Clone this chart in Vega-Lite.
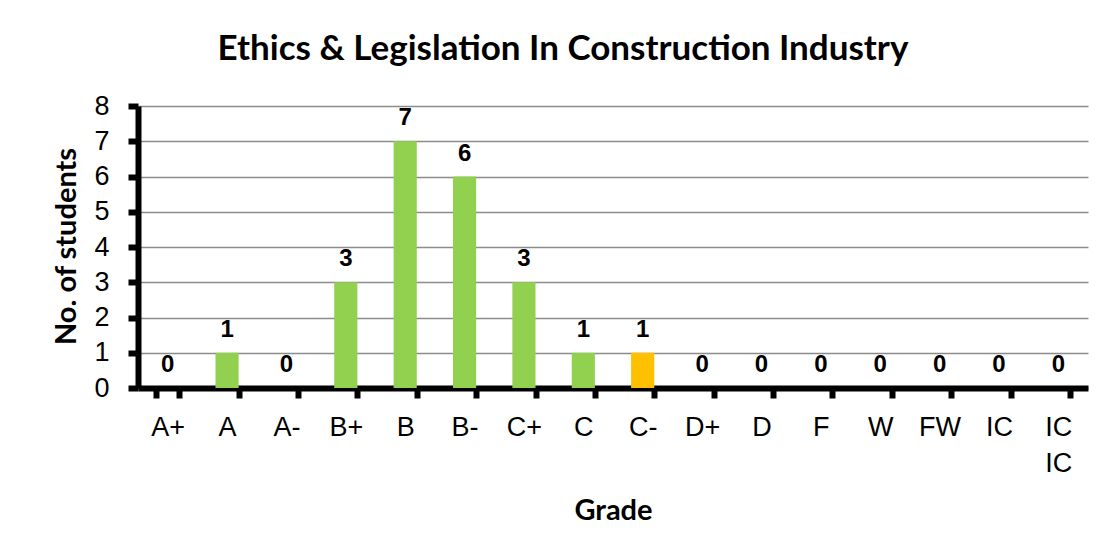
{
  "$schema": "https://vega.github.io/schema/vega-lite/v6.json",
  "autosize": "none",
  "width": 950,
  "height": 282,
  "padding": {"left": 138, "top": 106, "right": 18, "bottom": 172},
  "background": "white",
  "title": {
    "text": "Ethics & Legislation In Construction Industry",
    "font": "Lato",
    "fontSize": 35,
    "fontWeight": "bold",
    "color": "black",
    "anchor": "middle",
    "frame": "group",
    "baseline": "alphabetic",
    "offset": -3,
    "dx": -50
  },
  "data": {
    "values": [
      {"grade": "A+", "students": 0},
      {"grade": "A", "students": 1},
      {"grade": "A-", "students": 0},
      {"grade": "B+", "students": 3},
      {"grade": "B", "students": 7},
      {"grade": "B-", "students": 6},
      {"grade": "C+", "students": 3},
      {"grade": "C", "students": 1},
      {"grade": "C-", "students": 1},
      {"grade": "D+", "students": 0},
      {"grade": "D", "students": 0},
      {"grade": "F", "students": 0},
      {"grade": "W", "students": 0},
      {"grade": "FW", "students": 0},
      {"grade": "IC", "students": 0},
      {"grade": "IC IC", "students": 0}
    ]
  },
  "encoding": {
    "x": {
      "field": "grade",
      "type": "nominal",
      "sort": null,
      "scale": {"paddingInner": 0.61, "paddingOuter": 0.305},
      "axis": {
        "title": "Grade",
        "titleFont": "Lato",
        "titleFontSize": 29,
        "titleFontWeight": "bold",
        "titleColor": "black",
        "titleBaseline": "middle",
        "titleX": 475,
        "titleY": 122,
        "labelAngle": 0,
        "labelFont": "Liberation Sans",
        "labelFontSize": 27,
        "labelColor": "black",
        "labelPadding": 16,
        "labelLineHeight": 36,
        "labelExpr": "datum.value == 'IC IC' ? ['IC', 'IC'] : datum.value",
        "tickBand": "extent",
        "tickSize": 10,
        "tickWidth": 6,
        "tickColor": "black",
        "domainColor": "black",
        "domainWidth": 6,
        "grid": false
      }
    },
    "y": {
      "field": "students",
      "type": "quantitative",
      "scale": {"domain": [0, 8], "nice": false},
      "axis": {
        "title": "No. of students",
        "titleFont": "Lato",
        "titleFontSize": 29,
        "titleFontWeight": "bold",
        "titleColor": "black",
        "titleAngle": -90,
        "titleBaseline": "middle",
        "titleX": -72,
        "titleY": 140,
        "values": [0, 1, 2, 3, 4, 5, 6, 7, 8],
        "labelFont": "Liberation Sans",
        "labelFontSize": 27,
        "labelColor": "black",
        "labelPadding": 19,
        "tickSize": 10,
        "tickWidth": 6,
        "tickColor": "black",
        "domainColor": "black",
        "domainWidth": 6,
        "grid": true,
        "gridColor": "#8c8c8c",
        "gridWidth": 1.5
      }
    }
  },
  "layer": [
    {
      "mark": {"type": "bar"},
      "encoding": {
        "color": {
          "condition": {"test": "datum.grade == 'C-'", "value": "#FFC000"},
          "value": "#92D050"
        }
      }
    },
    {
      "mark": {
        "type": "text",
        "font": "Liberation Sans",
        "fontSize": 24,
        "fontWeight": "bold",
        "color": "black",
        "baseline": "alphabetic",
        "dy": -16
      },
      "encoding": {
        "text": {"field": "students", "type": "quantitative"}
      }
    }
  ],
  "config": {
    "view": {"stroke": null}
  }
}
